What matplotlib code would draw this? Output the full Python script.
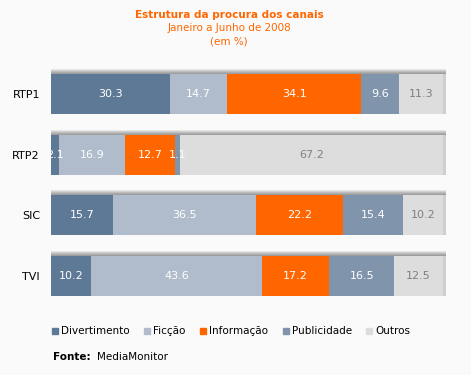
import matplotlib.pyplot as plt
from matplotlib.patches import Rectangle
import numpy as np

# data
channels = ["RTP1", "RTP2", "SIC", "TVI"]
series = ["Divertimento", "Ficção", "Informação", "Publicidade", "Outros"]
divertimento = [30.3, 2.1, 15.7, 10.2]
ficcao = [14.7, 16.9, 36.5, 43.6]
informacao = [34.1, 12.7, 22.2, 17.2]
publicidade = [9.6, 1.1, 15.4, 16.5]
outros = [11.3, 67.2, 10.2, 12.5]

colors = ["#5e7996", "#b0bccb", "#ff6600", "#8094ac", "#dddddd"]
text_colors = ["white", "white", "white", "white", "#808080"]
bg = "#fafafa"
orange = "#ff6600"

W, H = 471, 375
fig = plt.figure(figsize=(W / 100, H / 100), dpi=100, facecolor=bg)

# axes placed in pixel units
px_per_unit = 60.7
top_px = 94 - 0.6 * px_per_unit
span = 4.2 * px_per_unit
ax = fig.add_axes([51 / W, 1 - (top_px + span) / H, (443 - 51) / W, span / H])
ax.set_facecolor(bg)
ax.set_xlim(0, 100)
ax.set_ylim(3.6, -0.6)

values = [divertimento, ficcao, informacao, publicidade, outros]
ypos = np.arange(len(channels))
bar_h = 40 / px_per_unit
px_y = 1 / px_per_unit
px_x = 100 / (443 - 51)

# shadow above/right of each bar
shadow_cols = ["#e6e6e6", "#d0d0d0", "#bdbdbd", "#acacac", "#9e9e9e"]
for y in ypos:
    top = y - bar_h / 2
    for i, c in enumerate(shadow_cols):
        ax.add_patch(Rectangle((0, top - (5 - i) * px_y), 100 + 2.5 * px_x, px_y,
                               color=c, lw=0, zorder=1, clip_on=False))
    ax.add_patch(Rectangle((100, top), 2.5 * px_x, bar_h, color="#cfcfcf", lw=0,
                           zorder=1, clip_on=False))

left = np.zeros(len(channels))
for vals, col, tc in zip(values, colors, text_colors):
    ax.barh(ypos, vals, left=left, height=bar_h, color=col, lw=0, zorder=2)
    for y, v, l in zip(ypos, vals, left):
        ax.text(l + v / 2, y, f"{v:.1f}", ha="center", va="center",
                color=tc, fontsize=8, zorder=3, clip_on=True)
    left += np.array(vals)

ax.set_yticks(ypos)
ax.set_yticklabels(channels, fontsize=8, color="black")
ax.tick_params(axis="y", length=0, pad=8)
ax.set_xticks([])
for s in ax.spines.values():
    s.set_visible(False)

# titles
fig.text(229 / W, 1 - 15 / H, "Estrutura da procura dos canais", ha="center", va="center",
         color=orange, fontsize=7.5, fontweight="bold")
fig.text(229 / W, 1 - 28 / H, "Janeiro a Junho de 2008", ha="center", va="center",
         color=orange, fontsize=7.5)
fig.text(229 / W, 1 - 41 / H, "(em %)", ha="center", va="center",
         color=orange, fontsize=7.5)

# legend
leg_x = [52, 144, 200, 283, 366]
for x, name, col in zip(leg_x, series, colors):
    fig.patches.append(Rectangle((x / W, 1 - 334 / H), 6 / W, 6 / H, color=col,
                                 transform=fig.transFigure, figure=fig))
    fig.text((x + 9) / W, 1 - 331 / H, name, ha="left", va="center", fontsize=7.5)

fig.text(53 / W, 1 - 357 / H, "Fonte:", ha="left", va="center", fontsize=7.5, fontweight="bold")
fig.text(97 / W, 1 - 357 / H, "MediaMonitor", ha="left", va="center", fontsize=7.5)

fig.savefig("out.png", dpi=100, facecolor=bg)
